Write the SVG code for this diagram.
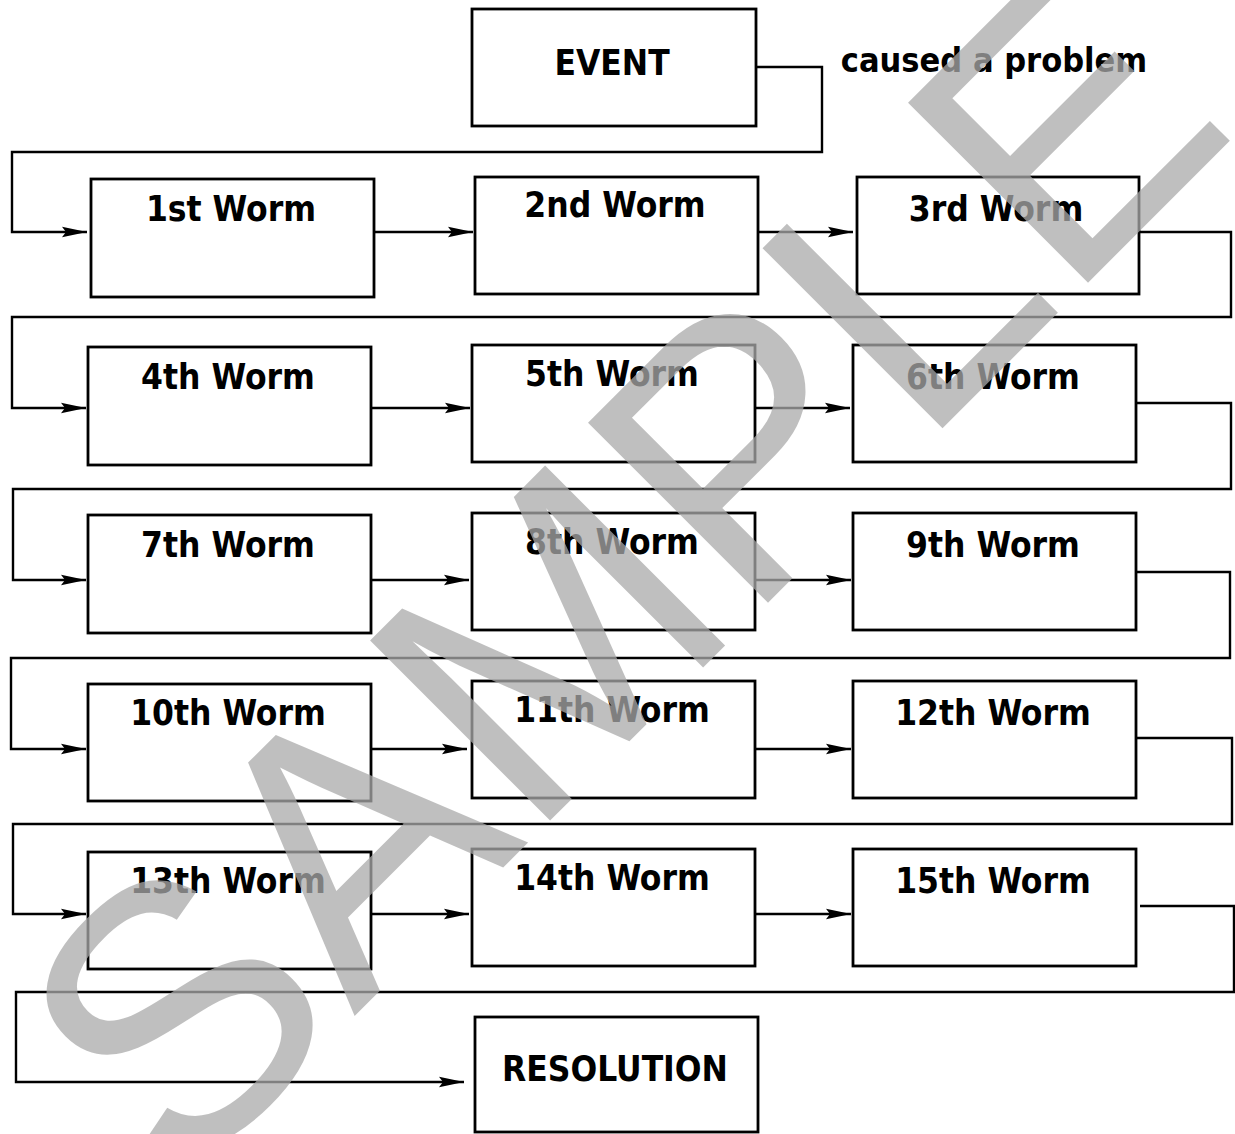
<svg xmlns="http://www.w3.org/2000/svg" width="1235" height="1134" viewBox="0 0 1235 1134">
<defs>
<style>
.box{fill:#fff;stroke:#000;stroke-width:2.8}
.lbl{font-family:'DejaVu Sans Condensed','DejaVu Sans',sans-serif;font-weight:bold;font-size:35px;fill:#000;text-anchor:middle}
.con{fill:none;stroke:#000;stroke-width:2.4}
.arr{marker-end:url(#ah)}
.wm{font-family:'Liberation Sans',Arial,sans-serif;font-size:370px;fill:#aaaaaa;fill-opacity:0.75;text-anchor:middle}
</style>
<marker id="ah" markerUnits="userSpaceOnUse" markerWidth="25" markerHeight="12" viewBox="0 0 25 12" refX="25" refY="6" orient="auto">
<path d="M0,0.8 L25,6 L0,11.2 L4,6 Z" fill="#000"/>
</marker>
</defs>
<rect width="1235" height="1134" fill="#fff"/>
<g id="connectors">
<path class="con arr" d="M756,67 H822 V152 H12 V232 H87"/>
<path class="con arr" d="M374,232 H473"/>
<path class="con arr" d="M758,232 H853"/>
<path class="con arr" d="M1139,232 H1231 V317 H12 V408 H86"/>
<path class="con arr" d="M371,408 H470"/>
<path class="con arr" d="M755,408 H850"/>
<path class="con arr" d="M1136,403 H1231 V489 H13 V580 H86"/>
<path class="con arr" d="M371,580 H469"/>
<path class="con arr" d="M755,580 H851"/>
<path class="con arr" d="M1136,572 H1230 V658 H11 V749 H86"/>
<path class="con arr" d="M371,749 H467"/>
<path class="con arr" d="M755,749 H851"/>
<path class="con arr" d="M1136,738 H1232 V824 H13 V914 H86"/>
<path class="con arr" d="M371,914 H469"/>
<path class="con arr" d="M755,914 H851"/>
<path class="con arr" d="M1140,906 H1234 V992 H16 V1082 H464"/>
</g>
<g id="label-caused"><text class="lbl" x="994" y="72" style="font-size:34px">caused a problem</text></g>
<g id="event"><rect class="box" x="472" y="9" width="284" height="117"/><text class="lbl" x="612" y="75">EVENT</text></g>
<g id="worm1"><rect class="box" x="91" y="179" width="283" height="118"/><text class="lbl" x="231" y="221">1st Worm</text></g>
<g id="worm2"><rect class="box" x="475" y="177" width="283" height="117"/><text class="lbl" x="615" y="217">2nd Worm</text></g>
<g id="worm3"><rect class="box" x="857" y="177" width="282" height="117"/><text class="lbl" x="996" y="221">3rd Worm</text></g>
<g id="worm4"><rect class="box" x="88" y="347" width="283" height="118"/><text class="lbl" x="228" y="389">4th Worm</text></g>
<g id="worm5"><rect class="box" x="472" y="345" width="283" height="117"/><text class="lbl" x="612" y="386">5th Worm</text></g>
<g id="worm6"><rect class="box" x="853" y="345" width="283" height="117"/><text class="lbl" x="993" y="389">6th Worm</text></g>
<g id="worm7"><rect class="box" x="88" y="515" width="283" height="118"/><text class="lbl" x="228" y="557">7th Worm</text></g>
<g id="worm8"><rect class="box" x="472" y="513" width="283" height="117"/><text class="lbl" x="612" y="554">8th Worm</text></g>
<g id="worm9"><rect class="box" x="853" y="513" width="283" height="117"/><text class="lbl" x="993" y="557">9th Worm</text></g>
<g id="worm10"><rect class="box" x="88" y="684" width="283" height="117"/><text class="lbl" x="228" y="725">10th Worm</text></g>
<g id="worm11"><rect class="box" x="472" y="681" width="283" height="117"/><text class="lbl" x="612" y="722">11th Worm</text></g>
<g id="worm12"><rect class="box" x="853" y="681" width="283" height="117"/><text class="lbl" x="993" y="725">12th Worm</text></g>
<g id="worm13"><rect class="box" x="88" y="852" width="283" height="117"/><text class="lbl" x="228" y="893">13th Worm</text></g>
<g id="worm14"><rect class="box" x="472" y="849" width="283" height="117"/><text class="lbl" x="612" y="890">14th Worm</text></g>
<g id="worm15"><rect class="box" x="853" y="849" width="283" height="117"/><text class="lbl" x="993" y="893">15th Worm</text></g>
<g id="resolution"><rect class="box" x="475" y="1017" width="283" height="115"/><text class="lbl" x="615" y="1081">RESOLUTION</text></g>
<g id="watermark"><text class="wm" transform="translate(617,567) rotate(-45)" x="0" y="132">SAMPLE</text></g>
</svg>
